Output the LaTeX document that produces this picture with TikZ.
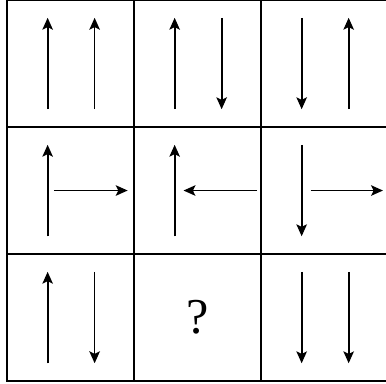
\documentclass[tikz,border=0pt]{standalone}
\usepackage{fontspec}
\setmainfont{Liberation Serif}
\usepackage{tikz}
\usetikzlibrary{arrows.meta}

\begin{document}
\begin{tikzpicture}[x=3.2cm, y=3.2cm, line width=1.25pt,
    sageata/.style={-{Stealth[length=8.5pt, width=7.5pt, inset=1.8pt]}}]
    \useasboundingbox (-0.055,-0.016) rectangle (2.984,3.0);
    % Grila 3x3
    \draw (0,0) rectangle (3,3);
    \foreach \i in {1,2} {
      \draw (\i,0) -- (\i,3);
      \draw (0,\i) -- (3,\i);
    }
    % Randul de sus
    \foreach \xa/\ya/\xb/\yb in {0.32/2.14/0.32/2.86, 0.69/2.14/0.69/2.86,
        1.32/2.14/1.32/2.86, 1.69/2.86/1.69/2.14,
        2.32/2.86/2.32/2.14, 2.69/2.14/2.69/2.86} {
      \draw[sageata] (\xa,\ya) -- (\xb,\yb);
    }
    % Randul din mijloc
    \foreach \xa/\ya/\xb/\yb in {0.32/1.14/0.32/1.86, 0.37/1.5/0.95/1.5,
        1.32/1.14/1.32/1.86, 1.97/1.5/1.39/1.5,
        2.32/1.86/2.32/1.14, 2.39/1.5/2.96/1.5} {
      \draw[sageata] (\xa,\ya) -- (\xb,\yb);
    }
    % Randul de jos
    \foreach \xa/\ya/\xb/\yb in {0.32/0.14/0.32/0.86, 0.69/0.86/0.69/0.14,
        2.32/0.86/2.32/0.14, 2.69/0.86/2.69/0.14} {
      \draw[sageata] (\xa,\ya) -- (\xb,\yb);
    }
    \node[font=\fontsize{36}{40}\selectfont] (q) at (1.5,0.5) {?};
  \end{tikzpicture}
\end{document}
